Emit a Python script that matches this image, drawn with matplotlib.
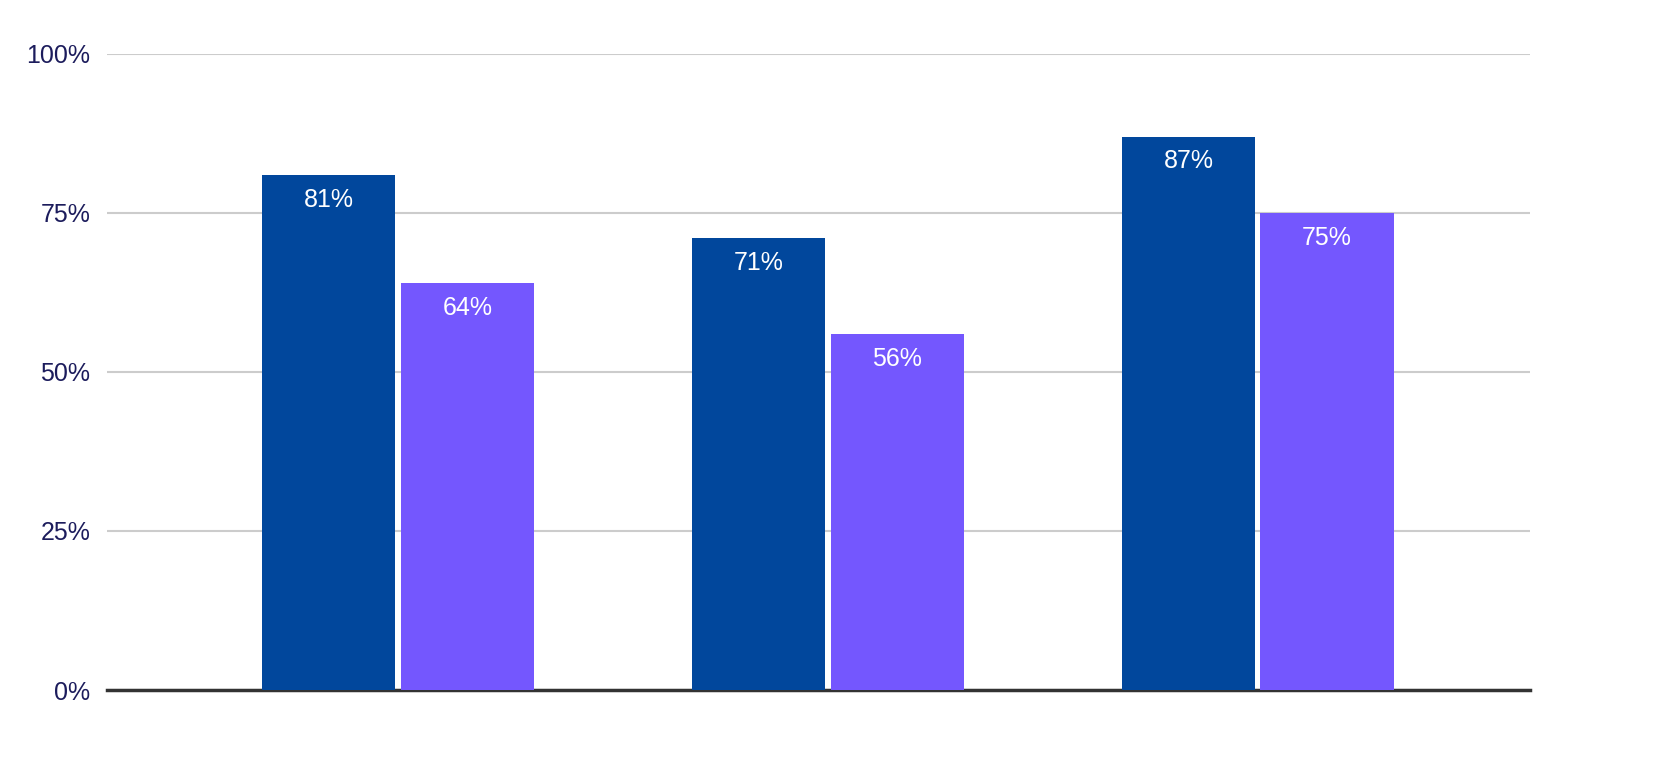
import matplotlib.pyplot as plt
import numpy as np

groups = ["", "", ""]
series_a = [81, 71, 87]
series_b = [64, 56, 75]
yticks = [0, 25, 50, 75, 100]

fig = plt.figure(figsize=(16.78, 7.59), dpi=100)
ax = fig.add_axes([107/1678, 69/759, (1530-107)/1678, (690-54)/759])

x = np.arange(len(groups))
w = 0.31
off = 0.161
b1 = ax.bar(x - off, series_a, w, color='#01479c', zorder=3)
b2 = ax.bar(x + off, series_b, w, color='#7457fe', zorder=3)
for bars in (b1, b2):
    for r in bars:
        ax.text(r.get_x() + r.get_width()/2, r.get_height() - 2.0, f"{r.get_height():.0f}%",
                ha='center', va='top', color='white', fontsize=18, family='Liberation Sans', zorder=4)

ax.set_xlim(-0.677, 2.633)
ax.set_ylim(0, 100)
ax.set_yticks(yticks)
ax.set_yticklabels([f"{t}%" for t in yticks], fontsize=18, color='#1c1c5c', family='Liberation Sans')
ax.set_xticks([])
ax.grid(axis='y', color='#cccccc', linewidth=1.5, zorder=0)
for s in ['top', 'right', 'left']:
    ax.spines[s].set_visible(False)
ax.spines['bottom'].set_color('#333333')
ax.spines['bottom'].set_linewidth(2.5)
ax.tick_params(axis='y', length=0, pad=12)

fig.savefig('out.png')
